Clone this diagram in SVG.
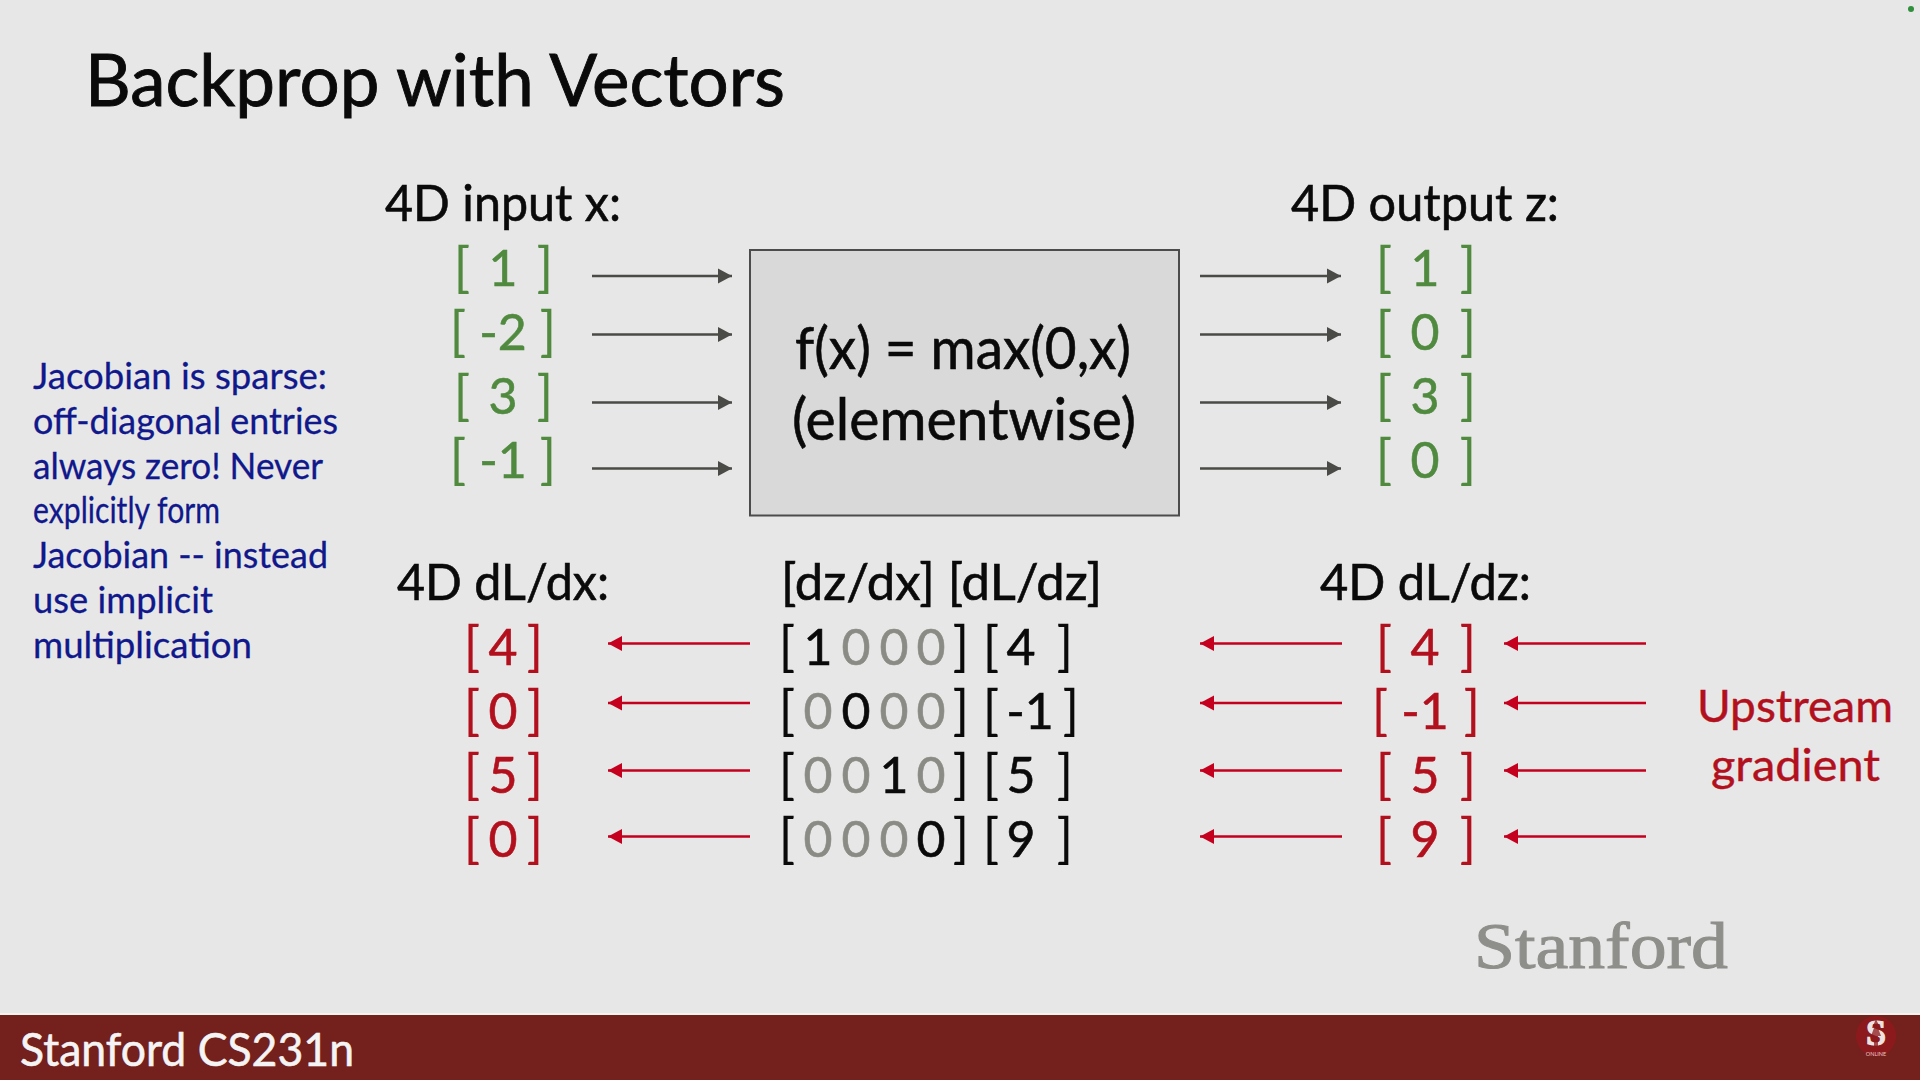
<svg xmlns="http://www.w3.org/2000/svg" width="1920" height="1080" viewBox="0 0 1920 1080">
<style>
text{font-family:"Lato","Noto Sans",sans-serif;fill:#0a0a0a;stroke:#0a0a0a;stroke-width:.6}
.h{font-size:50px}
.v{font-size:50px;text-anchor:middle}
.k{font-size:55px;stroke-width:0}
.g{fill:#4f8a3f;stroke:#4f8a3f}
.r{fill:#b3101e;stroke:#b3101e}
.z{fill:#8b8b85;stroke:#8b8b85}
.b{font-size:37px;fill:#10188c;stroke:#10188c;stroke-width:.3}
.u{font-size:44px;fill:#b3101e;stroke:#b3101e;stroke-width:.4}
.conn{stroke:#4a4a46;stroke-width:2.5;fill:none;marker-end:url(#ad)}
.red{stroke:#c4001e;stroke-width:2.5;fill:none;marker-end:url(#ar)}
</style>
<defs>
<marker id="ad" markerUnits="userSpaceOnUse" markerWidth="15" markerHeight="18" refX="14" refY="9" orient="auto"><path d="M0 1.500L14 9L0 16.500Z" fill="#4a4a46"/></marker>
<marker id="ar" markerUnits="userSpaceOnUse" markerWidth="15" markerHeight="18" refX="14" refY="9" orient="auto"><path d="M0 1.500L14 9L0 16.500Z" fill="#c4001e"/></marker>
</defs>
<rect width="1920" height="1080" fill="#e7e7e7"/>
<circle cx="1911" cy="9" r="3" fill="#2f8f3c"/>
<text id="title" x="85" y="106" font-size="72" style="stroke-width:.9" textLength="700" lengthAdjust="spacingAndGlyphs">Backprop with Vectors</text>

<g id="connectors">
<path class="conn" d="M592 276H732"/><path class="conn" d="M592 334.500H732"/><path class="conn" d="M592 402.500H732"/><path class="conn" d="M592 468.500H732"/>
<path class="conn" d="M1200 276H1341"/><path class="conn" d="M1200 334.500H1341"/><path class="conn" d="M1200 402.500H1341"/><path class="conn" d="M1200 468.500H1341"/>
<path class="red" d="M750 643.500H608"/><path class="red" d="M750 703H608"/><path class="red" d="M750 770.500H608"/><path class="red" d="M750 836.500H608"/>
<path class="red" d="M1342 643.500H1200"/><path class="red" d="M1342 703H1200"/><path class="red" d="M1342 770.500H1200"/><path class="red" d="M1342 836.500H1200"/>
<path class="red" d="M1646 643.500H1504"/><path class="red" d="M1646 703H1504"/><path class="red" d="M1646 770.500H1504"/><path class="red" d="M1646 836.500H1504"/>
</g>

<g id="node-f">
<rect x="750" y="250" width="429" height="265.500" fill="#d9d9d9" stroke="#4c4c4c" stroke-width="2"/>
<text x="795" y="369" font-size="58" textLength="336" lengthAdjust="spacingAndGlyphs">f(x) = max(0,x)</text>
<text x="792" y="440" font-size="58" textLength="344" lengthAdjust="spacingAndGlyphs">(elementwise)</text>
</g>

<g id="node-input">
<text class="h" x="385" y="221" textLength="236" lengthAdjust="spacingAndGlyphs">4D input x:</text>
<text class="v k g" x="462" y="286">[</text><text class="v g" x="503" y="286">1</text><text class="v k g" x="545" y="286">]</text>
<text class="v k g" x="458" y="350">[</text><text class="v g" x="503" y="350">-2</text><text class="v k g" x="548" y="350">]</text>
<text class="v k g" x="462" y="414">[</text><text class="v g" x="503" y="414">3</text><text class="v k g" x="545" y="414">]</text>
<text class="v k g" x="458" y="478">[</text><text class="v g" x="503" y="478">-1</text><text class="v k g" x="548" y="478">]</text>
</g>

<g id="node-output">
<text class="h" x="1291" y="221" textLength="268" lengthAdjust="spacingAndGlyphs">4D output z:</text>
<text class="v k g" x="1384" y="286">[</text><text class="v g" x="1425" y="286">1</text><text class="v k g" x="1468" y="286">]</text>
<text class="v k g" x="1384" y="350">[</text><text class="v g" x="1425" y="350">0</text><text class="v k g" x="1468" y="350">]</text>
<text class="v k g" x="1384" y="414">[</text><text class="v g" x="1425" y="414">3</text><text class="v k g" x="1468" y="414">]</text>
<text class="v k g" x="1384" y="478">[</text><text class="v g" x="1425" y="478">0</text><text class="v k g" x="1468" y="478">]</text>
</g>

<g id="node-dldx">
<text class="h" x="397" y="600" textLength="212" lengthAdjust="spacingAndGlyphs">4D dL/dx:</text>
<text class="v k r" x="472" y="665">[</text><text class="v r" x="503" y="665">4</text><text class="v k r" x="535" y="665">]</text>
<text class="v k r" x="472" y="729">[</text><text class="v r" x="503" y="729">0</text><text class="v k r" x="535" y="729">]</text>
<text class="v k r" x="472" y="793">[</text><text class="v r" x="503" y="793">5</text><text class="v k r" x="535" y="793">]</text>
<text class="v k r" x="472" y="857">[</text><text class="v r" x="503" y="857">0</text><text class="v k r" x="535" y="857">]</text>
</g>

<g id="node-jacobian">
<text class="h" x="781" y="600" textLength="321" lengthAdjust="spacingAndGlyphs">[dz/dx] [dL/dz]</text>
<text class="v k" x="787" y="665">[</text><text class="v" x="818" y="665">1</text><text class="v z" x="856" y="665">0</text><text class="v z" x="894" y="665">0</text><text class="v z" x="931" y="665">0</text><text class="v k" x="961" y="665">]</text>
<text class="v k" x="787" y="729">[</text><text class="v z" x="818" y="729">0</text><text class="v" x="856" y="729">0</text><text class="v z" x="894" y="729">0</text><text class="v z" x="931" y="729">0</text><text class="v k" x="961" y="729">]</text>
<text class="v k" x="787" y="793">[</text><text class="v z" x="818" y="793">0</text><text class="v z" x="856" y="793">0</text><text class="v" x="894" y="793">1</text><text class="v z" x="931" y="793">0</text><text class="v k" x="961" y="793">]</text>
<text class="v k" x="787" y="857">[</text><text class="v z" x="818" y="857">0</text><text class="v z" x="856" y="857">0</text><text class="v z" x="894" y="857">0</text><text class="v" x="931" y="857">0</text><text class="v k" x="961" y="857">]</text>
</g>

<g id="node-dldz-mid">
<text class="v k" x="991" y="665">[</text><text class="v" x="1021" y="665">4</text><text class="v k" x="1065" y="665">]</text>
<text class="v k" x="991" y="729">[</text><text class="v" x="1030" y="729">-1</text><text class="v k" x="1071" y="729">]</text>
<text class="v k" x="991" y="793">[</text><text class="v" x="1021" y="793">5</text><text class="v k" x="1065" y="793">]</text>
<text class="v k" x="991" y="857">[</text><text class="v" x="1021" y="857">9</text><text class="v k" x="1065" y="857">]</text>
</g>

<g id="node-dldz">
<text class="h" x="1320" y="600" textLength="211" lengthAdjust="spacingAndGlyphs">4D dL/dz:</text>
<text class="v k r" x="1384" y="665">[</text><text class="v r" x="1425" y="665">4</text><text class="v k r" x="1468" y="665">]</text>
<text class="v k r" x="1380" y="729">[</text><text class="v r" x="1425" y="729">-1</text><text class="v k r" x="1472" y="729">]</text>
<text class="v k r" x="1384" y="793">[</text><text class="v r" x="1425" y="793">5</text><text class="v k r" x="1468" y="793">]</text>
<text class="v k r" x="1384" y="857">[</text><text class="v r" x="1425" y="857">9</text><text class="v k r" x="1468" y="857">]</text>
</g>

<g id="note-jacobian">
<text class="b" x="33" y="389" textLength="294" lengthAdjust="spacingAndGlyphs">Jacobian is sparse:</text>
<text class="b" x="33" y="434" textLength="305" lengthAdjust="spacingAndGlyphs">off-diagonal entries</text>
<text class="b" x="33" y="479" textLength="290" lengthAdjust="spacingAndGlyphs">always zero! Never</text>
<text class="b" x="33" y="523" textLength="187" lengthAdjust="spacingAndGlyphs">explicitly form</text>
<text class="b" x="33" y="568" textLength="295" lengthAdjust="spacingAndGlyphs">Jacobian -- instead</text>
<text class="b" x="33" y="613" textLength="180" lengthAdjust="spacingAndGlyphs">use implicit</text>
<text class="b" x="33" y="658" textLength="219" lengthAdjust="spacingAndGlyphs">multiplication</text>
</g>

<g id="note-upstream">
<text class="u" x="1697" y="722" textLength="196" lengthAdjust="spacingAndGlyphs">Upstream</text>
<text class="u" x="1711" y="781" textLength="169" lengthAdjust="spacingAndGlyphs">gradient</text>
</g>

<text x="1474" y="968" font-size="66" style="font-family:'Liberation Serif',serif;fill:#8e8e8a;stroke:#8e8e8a;stroke-width:1" textLength="254" lengthAdjust="spacingAndGlyphs">Stanford</text>

<g id="footer">
<rect x="0" y="1013" width="1920" height="2" fill="#f6f2f0"/>
<rect x="0" y="1015" width="1920" height="65" fill="#74201c"/>
<text x="20" y="1066" font-size="46" style="fill:#f4f4f4;stroke:#f4f4f4;stroke-width:.6" textLength="334" lengthAdjust="spacingAndGlyphs">Stanford CS231n</text>
<circle cx="1876" cy="1036" r="20" fill="#8c1a1c"/>
<text x="1876" y="1045" font-size="36" font-weight="700" text-anchor="middle" style="font-family:'Liberation Serif',serif;fill:#ece4e2;stroke:#ece4e2;stroke-width:1.2">S</text>
<path d="M1876 1019L1880 1028L1878 1028L1881 1036L1878 1036L1878 1046L1874 1046L1874 1036L1871 1036L1874 1028L1872 1028Z" fill="#8c1a1c" opacity=".75"/>
<text x="1876" y="1056" font-size="5.500" text-anchor="middle" style="fill:#e4c8c6;stroke-width:0">ONLINE</text>
</g>
</svg>
